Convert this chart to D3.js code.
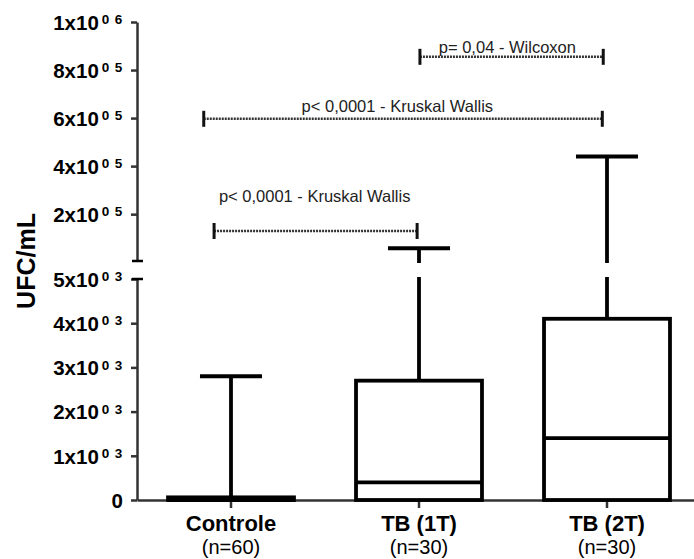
<!DOCTYPE html>
<html><head><meta charset="utf-8">
<script src="https://cdn.jsdelivr.net/npm/d3@7"></script>
<style>
html,body{margin:0;padding:0;background:#fff;}
svg{display:block;font-family:"Liberation Sans",Arial,sans-serif;}
</style></head>
<body><svg id="chart" width="694" height="559"></svg>
<script>
// ---- data ----
const categories = ["Controle", "TB (1T)", "TB (2T)"];
const nLabels = ["(n=60)", "(n=30)", "(n=30)"];
const whiskerLow = [0, 0, 0];
const q1 = [0, 0, 0];
const medians = [0, 400, 1400];
const q3 = [60, 2700, 4100];
const whiskerHigh = [2800, 58000, 440000];

const lowerTicks = [0, 1000, 2000, 3000, 4000, 5000];
const lowerMantissa = ["0", "1x10", "2x10", "3x10", "4x10", "5x10"];
const lowerExponent = ["", "0 3", "0 3", "0 3", "0 3", "0 3"];
const upperTicks = [200000, 400000, 600000, 800000, 1000000];
const upperMantissa = ["2x10", "4x10", "6x10", "8x10", "1x10"];
const upperExponent = ["0 5", "0 5", "0 5", "0 5", "0 6"];
const breakValue = 5000;
const axisMax = 1000000;

// significance brackets: x in category-index units, y in data units
const bracketText = ["p= 0,04 - Wilcoxon", "p< 0,0001 - Kruskal Wallis", "p< 0,0001 - Kruskal Wallis"];
const bracketX1 = [1.005, -0.145, -0.09];
const bracketX2 = [1.98, 1.975, 0.99];
const bracketY = [855000, 597000, 130000];
const bracketTextX = [1.47, 0.885, 0.445];
const bracketTextY = [870000, 625000, 250000];

// ---- layout ----
const svg = d3.select("#chart");
const axisX = 137;
const x = d3.scaleBand().domain(categories).range([axisX, axisX + 3 * 188]).padding(0);
const step = x.step();
const cx = c => x(c) + x.bandwidth() / 2;
const xi = d3.scaleLinear().domain([0, 2]).range([cx(categories[0]), cx(categories[2])]);
const yL = d3.scaleLinear().domain([0, breakValue]).range([500, 279]);
const yU = d3.scaleLinear().domain([breakValue, axisMax]).range([261, 22]);
const yv = v => v <= breakValue ? yL(v) : yU(v);

const axisColor = "#333";

// x axis
const gx = svg.append("g").attr("transform", `translate(0,${yL(0)})`)
  .call(d3.axisBottom(x).tickSize(8).tickSizeOuter(0).tickFormat(""));
gx.select(".domain").attr("stroke", axisColor).attr("stroke-width", 2.5);
gx.selectAll(".tick line").attr("stroke", axisColor).attr("stroke-width", 2.5);

gx.selectAll(".tick").each(function(d, i) {
  const t = d3.select(this);
  t.append("text").attr("y", 31).attr("text-anchor", "middle")
    .attr("font-weight", "bold").attr("font-size", 22).attr("fill", "#000").text(d);
  t.append("text").attr("y", 54).attr("text-anchor", "middle")
    .attr("font-size", 20).attr("fill", "#000").text(nLabels[i]);
});

function styleY(g, mant, expo) {
  g.select(".domain").attr("stroke", axisColor).attr("stroke-width", 2.5);
  g.selectAll(".tick line").attr("stroke", axisColor).attr("stroke-width", 2.5);
  g.selectAll(".tick text").remove();
  g.selectAll(".tick").each(function(d, i) {
    const t = d3.select(this).append("text").attr("x", -14).attr("dy", "0.36em")
      .attr("text-anchor", "end").attr("font-weight", "bold").attr("font-size", 20.5).attr("fill", "#000");
    t.append("tspan").text(mant[i]);
    if (expo[i]) t.append("tspan").attr("dx", 3).attr("dy", "-0.42em").attr("font-size", 13.5)
      .attr("letter-spacing", 0.8).text(expo[i]);
  });
}
const gyL = svg.append("g").attr("transform", `translate(${axisX},0)`)
  .call(d3.axisLeft(yL).tickValues(lowerTicks).tickSize(6).tickSizeOuter(0));
styleY(gyL, lowerMantissa, lowerExponent);
const gyU = svg.append("g").attr("transform", `translate(${axisX},0)`)
  .call(d3.axisLeft(yU).tickValues(upperTicks).tickSize(6).tickSizeOuter(0));
styleY(gyU, upperMantissa, upperExponent);
// break caps
[yU(breakValue), yL(breakValue)].forEach(yy => {
  svg.append("line").attr("x1", axisX - 5).attr("x2", axisX + 6).attr("y1", yy).attr("y2", yy)
    .attr("stroke", "#000").attr("stroke-width", 2.5);
});

// y title
svg.append("text").attr("transform", `translate(35,${(yU(axisMax) + yL(0)) / 2}) rotate(-90)`)
  .attr("text-anchor", "middle").attr("font-weight", "bold").attr("font-size", 25).text("UFC/mL");

// boxes
const boxW = step * 0.67, capW = step * 0.33;
const sw = 3.8;
categories.forEach((c, i) => {
  const xc = cx(c);
  const g = svg.append("g").attr("stroke", "#000").attr("stroke-width", sw).attr("fill", "none");
  if (whiskerHigh[i] > breakValue) {
    g.append("line").attr("x1", xc).attr("x2", xc).attr("y1", yU(whiskerHigh[i])).attr("y2", yU(breakValue) + 2);
    g.append("line").attr("x1", xc).attr("x2", xc).attr("y1", yL(breakValue) - 2).attr("y2", yL(q3[i]));
  } else {
    g.append("line").attr("x1", xc).attr("x2", xc).attr("y1", yL(whiskerHigh[i])).attr("y2", yL(q3[i]));
  }
  g.append("line").attr("x1", xc - capW / 2).attr("x2", xc + capW / 2)
    .attr("y1", yv(whiskerHigh[i])).attr("y2", yv(whiskerHigh[i]));
  g.append("rect").attr("x", xc - boxW / 2).attr("width", boxW)
    .attr("y", yL(q3[i])).attr("height", yL(q1[i]) - yL(q3[i]));
  g.append("line").attr("x1", xc - boxW / 2).attr("x2", xc + boxW / 2)
    .attr("y1", yL(medians[i])).attr("y2", yL(medians[i]));
  if (whiskerLow[i] < q1[i]) {
    g.append("line").attr("x1", xc).attr("x2", xc).attr("y1", yL(q1[i])).attr("y2", yL(whiskerLow[i]));
  }
});

// brackets
bracketText.forEach((t, i) => {
  const g = svg.append("g").attr("stroke", "#333").attr("stroke-width", 2.5);
  const x1 = xi(bracketX1[i]), x2 = xi(bracketX2[i]), yy = yU(bracketY[i]);
  g.append("line").attr("x1", x1).attr("x2", x2).attr("y1", yy).attr("y2", yy).attr("stroke-dasharray", "2,1");
  g.append("line").attr("x1", x1).attr("x2", x1).attr("y1", yy - 8).attr("y2", yy + 8).attr("stroke", "#111").attr("stroke-width", 3);
  g.append("line").attr("x1", x2).attr("x2", x2).attr("y1", yy - 8).attr("y2", yy + 8).attr("stroke", "#111").attr("stroke-width", 3);
  svg.append("text").attr("x", xi(bracketTextX[i])).attr("y", yU(bracketTextY[i]))
    .attr("text-anchor", "middle").attr("font-size", 16.5).attr("fill", "#222").text(t);
});
</script></body></html>
